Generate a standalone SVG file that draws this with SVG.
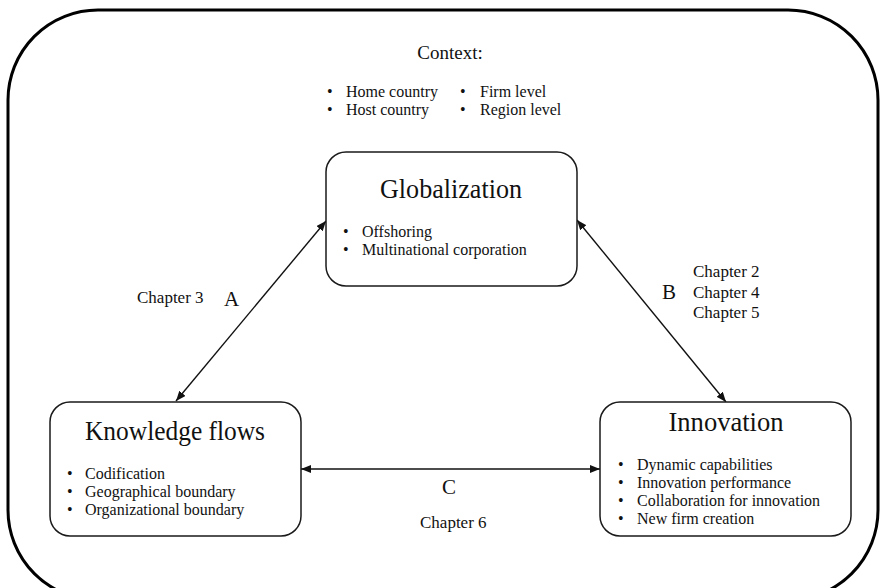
<svg xmlns="http://www.w3.org/2000/svg" width="885" height="588" viewBox="0 0 885 588">
<style>
text{font-family:"Liberation Serif","DejaVu Serif",serif;fill:#111}
.box{fill:#fff;stroke:#1a1a1a;stroke-width:1.5}
.title{font-size:27px;text-anchor:middle}
.b{font-size:16px}
.ctx{font-size:16px}
.lbl{font-size:17px}
.let{font-size:21px}
.con{stroke:#111;stroke-width:1.4;fill:none;marker-start:url(#ah);marker-end:url(#ah)}
</style>
<defs>
<marker id="ah" viewBox="0 0 10 8" refX="10" refY="4" markerWidth="10" markerHeight="8" markerUnits="userSpaceOnUse" orient="auto-start-reverse">
<path d="M0,0 L10,4 L0,8 Z" fill="#111"/>
</marker>
</defs>
<rect width="885" height="588" fill="#fff"/>
<g id="frame">
<rect x="8" y="10" width="870" height="590" rx="90" ry="90" fill="none" stroke="#000" stroke-width="3"/>
</g>
<g id="context">
<text x="450" y="59" style="font-size:19px;text-anchor:middle">Context:</text>
<text class="ctx" x="327" y="97">•</text><text class="ctx" x="346" y="97">Home country</text>
<text class="ctx" x="327" y="115">•</text><text class="ctx" x="346" y="115">Host country</text>
<text class="ctx" x="460" y="97">•</text><text class="ctx" x="480" y="97">Firm level</text>
<text class="ctx" x="460" y="115">•</text><text class="ctx" x="480" y="115">Region level</text>
</g>
<g id="connectors">
<line class="con" x1="176" y1="401" x2="326" y2="221"/>
<line class="con" x1="577" y1="220" x2="726" y2="402"/>
<line class="con" x1="301" y1="469" x2="600" y2="469"/>
<text class="lbl" x="137" y="303">Chapter 3</text>
<text class="let" x="224" y="306">A</text>
<text class="let" x="662" y="299">B</text>
<text class="lbl" x="693" y="277">Chapter 2</text>
<text class="lbl" x="693" y="298">Chapter 4</text>
<text class="lbl" x="693" y="318">Chapter 5</text>
<text class="let" x="442" y="494">C</text>
<text class="lbl" x="420" y="528">Chapter 6</text>
</g>
<g id="globalization">
<rect class="box" x="326" y="152" width="251" height="134" rx="20"/>
<text class="title" x="451" y="198" textLength="142" lengthAdjust="spacingAndGlyphs">Globalization</text>
<text class="b" x="343" y="237">•</text><text class="b" x="362" y="237">Offshoring</text>
<text class="b" x="343" y="255">•</text><text class="b" x="362" y="255">Multinational corporation</text>
</g>
<g id="knowledge">
<rect class="box" x="50" y="402" width="251" height="134" rx="20"/>
<text class="title" x="175" y="440" textLength="180" lengthAdjust="spacingAndGlyphs">Knowledge flows</text>
<text class="b" x="67" y="479">•</text><text class="b" x="85" y="479">Codification</text>
<text class="b" x="67" y="497">•</text><text class="b" x="85" y="497">Geographical boundary</text>
<text class="b" x="67" y="515">•</text><text class="b" x="85" y="515">Organizational boundary</text>
</g>
<g id="innovation">
<rect class="box" x="600" y="402" width="251" height="134" rx="20"/>
<text class="title" x="726" y="431" textLength="115" lengthAdjust="spacingAndGlyphs">Innovation</text>
<text class="b" x="618" y="470">•</text><text class="b" x="637" y="470">Dynamic capabilities</text>
<text class="b" x="618" y="488">•</text><text class="b" x="637" y="488">Innovation performance</text>
<text class="b" x="618" y="506">•</text><text class="b" x="637" y="506">Collaboration for innovation</text>
<text class="b" x="618" y="524">•</text><text class="b" x="637" y="524">New firm creation</text>
</g>
</svg>
